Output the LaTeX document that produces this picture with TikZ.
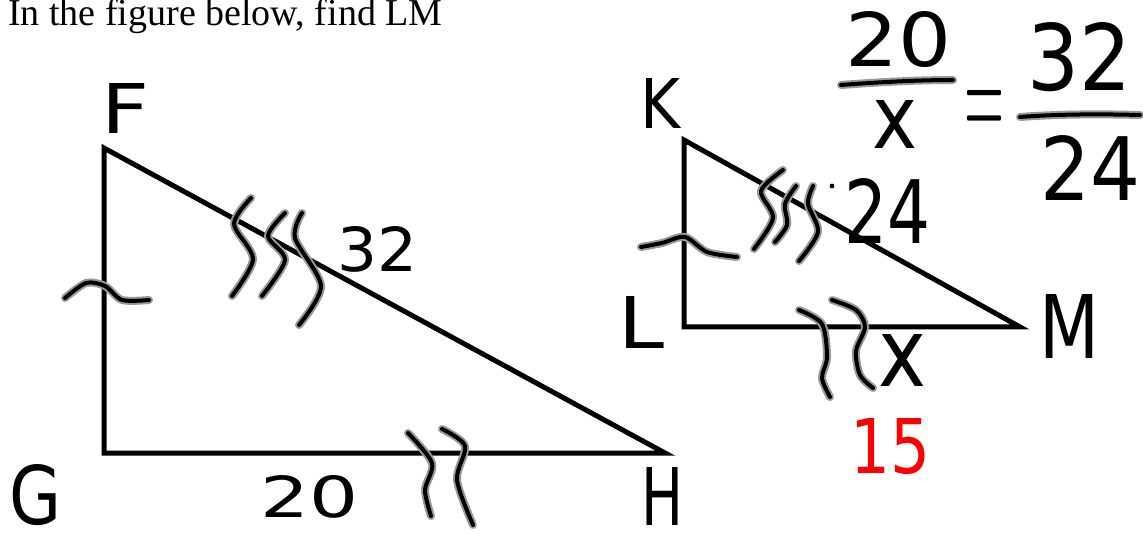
\documentclass[tikz,border=0pt]{standalone}
\usepackage{fontspec}
\setmainfont{Liberation Serif}
\newfontfamily\hand{DejaVu Sans}
\usepackage{graphicx}
\newcommand\hwtext[3]{\resizebox{#1pt}{#2pt}{#3}}
\begin{document}
\begin{tikzpicture}[x=1pt,y=-1pt,
  tri/.style={line width=5pt, line join=miter},
  ink/.style={line width=4pt, black, line cap=round, line join=round,
    preaction={draw=black!40, line width=8pt, line cap=round, line join=round}},
  hw/.style={inner sep=0pt, font=\hand},
  title/.style={inner sep=0pt, anchor=base west, font=\fontsize{38}{40}\selectfont}]
\useasboundingbox (0,0) rectangle (1143,534);
% title
\node[title] (q) at (8,26) {In the figure below, find LM};
% triangle FGH
\coordinate (F) at (104,148);
\coordinate (G) at (104,453);
\coordinate (H) at (665,453);
\draw[tri] (F) -- (G) -- (H) -- cycle;
% triangle KLM
\coordinate (K) at (684,140);
\coordinate (L) at (684,327);
\coordinate (M) at (1020,327);
\draw[tri] (K) -- (L) -- (M) -- cycle;
% vertex labels
\node[hw] (lF) at (126,108) {\hwtext{48}{50}{F}};
\node[hw] (lG) at (36,495) {\hwtext{52}{60}{G}};
\node[hw] (lH) at (662,496) {\hwtext{42}{58}{H}};
\node[hw] (lK) at (661,103) {\hwtext{40}{50}{K}};
\node[hw] (lL) at (641,322) {\hwtext{46}{52}{L}};
\node[hw] (lM) at (1069,326) {\hwtext{60}{64}{M}};
% side labels
\node[hw] (s32) at (378,249) {\hwtext{80}{45}{32}};
\node[hw] (s20) at (310,497) {\hwtext{98}{42}{20}};
\node[hw] (s24) at (888,211) {\hwtext{86}{65}{24}};
\node[hw] (sx) at (902,361) {\hwtext{48}{52}{x}};
\node[hw, text=red] (ans) at (891,447) {\hwtext{80}{55}{15}};
% proportion
\node[hw] (p20) at (899,40) {\hwtext{106}{55}{20}};
\node[hw] (px) at (895,125) {\hwtext{45}{48}{x}};
\node[inner sep=0pt, anchor=base west] (peq) at (964,139) {\hwtext{40}{48}{$=$}};
\node[hw] (p32) at (1080,57) {\hwtext{104}{68}{32}};
\node[hw] (p24) at (1091,168) {\hwtext{100}{65}{24}};
\draw[ink] (841,85) .. controls (880,82) and (920,80) .. (953,80);
\draw[ink] (1020,117) .. controls (1060,114) and (1100,114) .. (1140,115);
% tick marks on FGH
\draw[ink] plot[smooth] coordinates {(65,298) (86,283) (105,286) (122,300) (149,300)};
\draw[ink] plot[smooth] coordinates {(251,198) (234,224) (253,259) (232,296)};
\draw[ink] plot[smooth] coordinates {(285,213) (268,236) (285,260) (262,296)};
\draw[ink] plot[smooth] coordinates {(302,213) (295,238) (321,286) (299,325)};
\draw[ink] plot[smooth] coordinates {(408,433) (432,463) (425,490) (431,516)};
\draw[ink] plot[smooth] coordinates {(442,429) (465,446) (457,480) (473,525)};
% tick marks on KLM
\draw[ink] plot[smooth] coordinates {(641,247) (662,243) (685,237) (707,252) (737,257)};
\draw[ink] plot[smooth] coordinates {(783,170) (761,191) (773,218) (754,249)};
\draw[ink] plot[smooth] coordinates {(796,186) (785,204) (787,225) (775,242)};
\draw[ink] plot[smooth] coordinates {(813,186) (808,204) (818,232) (799,261)};
\fill[black] (832,186) circle (2.4pt);
\draw[ink] plot[smooth] coordinates {(799,310) (822,324) (827,357) (822,378) (830,397)};
\draw[ink] plot[smooth] coordinates {(832,300) (856,310) (865,327) (856,351) (860,375) (873,388)};
\end{tikzpicture}
\end{document}
